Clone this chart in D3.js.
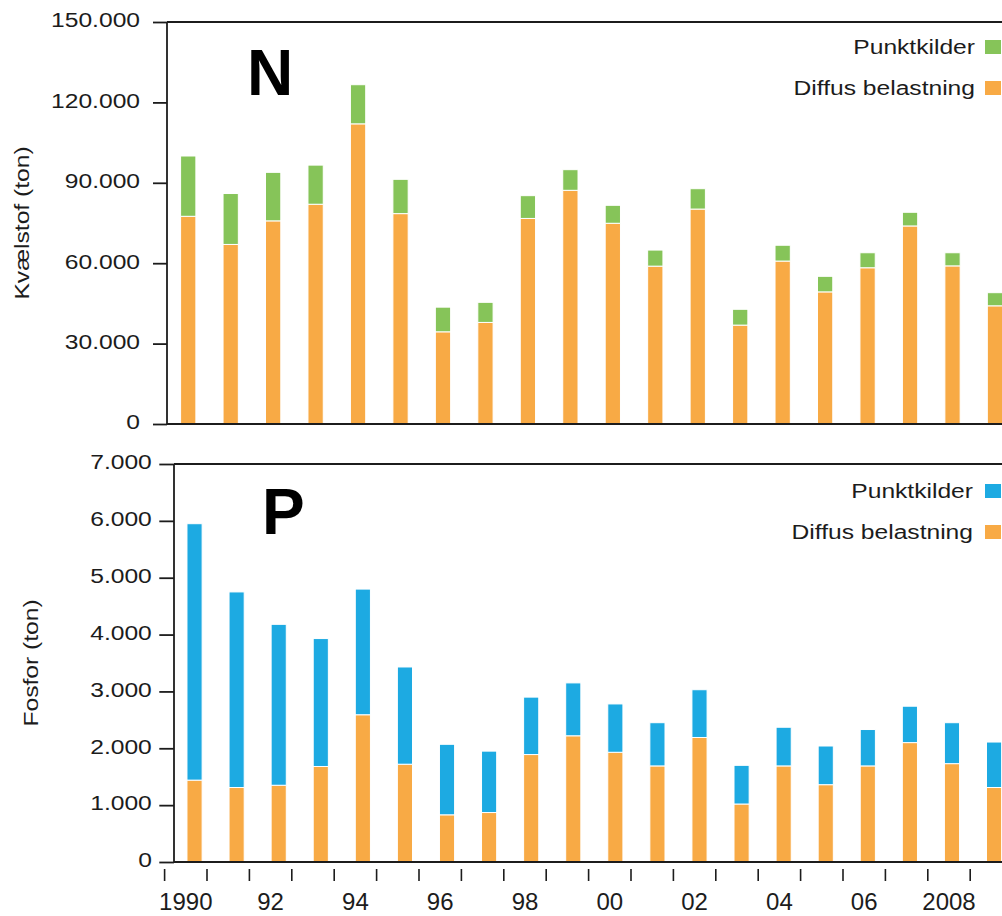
<!DOCTYPE html>
<html>
<head>
<meta charset="utf-8">
<script src="https://cdn.jsdelivr.net/npm/d3@7"></script>
<style>
  html, body { margin: 0; padding: 0; background: #fff; overflow: hidden; }
  svg { display: block; font-family: "Liberation Sans", Arial, Helvetica, sans-serif; }
</style>
</head>
<body>
<script>
// ---------- data ----------
const years = [1990,1991,1992,1993,1994,1995,1996,1997,1998,1999,2000,2001,2002,2003,2004,2005,2006,2007,2008,2009];

// Kvælstof (ton)
const nDiffus = [77500,67000,75800,82000,112000,78500,34400,37900,76700,87200,74900,58900,80200,36900,60800,49300,58300,73900,59000,44100];
const nPunkt  = [22500,19000,18100,14600,14600,12800,9200,7500,8500,7700,6700,6000,7600,5900,5900,5800,5600,5100,4900,4900];

// Fosfor (ton)
const pDiffus = [1440,1310,1350,1680,2590,1720,830,870,1890,2220,1930,1690,2190,1020,1690,1360,1690,2100,1730,1310];
const pPunkt  = [4510,3440,2830,2250,2210,1710,1240,1080,1010,930,850,760,840,680,680,680,640,640,720,800];

const nTicks = [0,30000,60000,90000,120000,150000];
const nTickLabels = ["0","30.000","60.000","90.000","120.000","150.000"];
const pTicks = [0,1000,2000,3000,4000,5000,6000,7000];
const pTickLabels = ["0","1.000","2.000","3.000","4.000","5.000","6.000","7.000"];

const labelYears = [1990,1992,1994,1996,1998,2000,2002,2004,2006,2008];
const xLabels = ["1990","92","94","96","98","00","02","04","06","2008"];

const seriesNames = ["Punktkilder","Diffus belastning"];

// ---------- styles ----------
const C_ORANGE = "#F8AA45", C_GREEN = "#86C459", C_BLUE = "#1DAAE2";
const INK = "#1c1c1c";
const STRETCH = 1.23;

const svg = d3.select("body").append("svg").attr("width", 1002).attr("height", 916);

function stretch(sel, k) {
  sel.each(function () {
    const w = this.getComputedTextLength();
    this.setAttribute("textLength", w * k);
    this.setAttribute("lengthAdjust", "spacingAndGlyphs");
  });
}

function panel(cfg) {
  const g = svg.append("g");
  const y = d3.scaleLinear().domain([0, cfg.max]).range([cfg.y0, cfg.y1]);
  const x = d3.scaleBand().domain(years).range(cfg.xRange).paddingInner(0.64).paddingOuter(0.32);

  const table = years.map((yr, i) => ({ year: yr, diffus: cfg.diffus[i], punkt: cfg.punkt[i] }));
  const stack = d3.stack().keys(["diffus", "punkt"])(table);
  const colors = { diffus: C_ORANGE, punkt: cfg.pointColor };

  g.append("g").selectAll("g").data(stack).join("g")
    .attr("fill", d => colors[d.key])
    .selectAll("rect").data(d => d).join("rect")
    .attr("x", d => x(d.data.year))
    .attr("width", x.bandwidth())
    .attr("y", d => y(d[1]))
    .attr("height", d => y(d[0]) - y(d[1]))
    .attr("stroke", "#fff").attr("stroke-width", 1);

  // frame lines
  const axX = cfg.axisX;
  g.append("line").attr("x1", axX).attr("x2", axX).attr("y1", cfg.y1).attr("y2", cfg.y0)
    .attr("stroke", INK).attr("stroke-width", 1.8);
  [cfg.y0, cfg.y1].forEach(yy => {
    g.append("line").attr("x1", axX).attr("x2", 1010).attr("y1", yy).attr("y2", yy)
      .attr("stroke", INK).attr("stroke-width", 1.8);
  });

  // y axis
  const ax = g.append("g").attr("transform", `translate(${axX},0)`)
    .call(d3.axisLeft(y).tickValues(cfg.ticks).tickFormat((d, i) => cfg.tickLabels[i])
      .tickSize(cfg.tickSize).tickPadding(cfg.tickPad));
  ax.select(".domain").remove();
  ax.selectAll(".tick line").attr("stroke", INK).attr("stroke-width", 1.8);
  ax.selectAll(".tick text").attr("fill", INK).attr("font-size", 20)
    .attr("font-family", "Liberation Sans, Arial, sans-serif").attr("dy", "0.24em")
    .call(stretch, STRETCH);

  // axis title
  const t = g.append("text")
    .attr("transform", `translate(${cfg.titleX},${(cfg.y0 + cfg.y1) / 2}) rotate(-90)`)
    .attr("text-anchor", "middle").attr("font-size", 20).attr("fill", INK)
    .text(cfg.title);
  t.call(stretch, STRETCH);

  // big letter
  g.append("text").attr("x", cfg.letterX).attr("y", cfg.letterY)
    .attr("font-size", 64).attr("font-weight", "bold").attr("fill", "#000")
    .text(cfg.letter);

  // legend
  const leg = g.append("g");
  const legColors = [cfg.pointColor, C_ORANGE];
  seriesNames.forEach((name, i) => {
    const by = cfg.legY[i];
    leg.append("text").attr("x", cfg.legTextX).attr("y", by).attr("text-anchor", "end")
      .attr("font-size", 20).attr("fill", INK).text(name).call(stretch, STRETCH);
    leg.append("rect").attr("x", 985).attr("y", by - 14).attr("width", 16).attr("height", 14)
      .attr("fill", legColors[i]);
  });
  return { x, y };
}

// Top panel: N
panel({
  max: 150000, y0: 424, y1: 22, xRange: [167, 1016.2], axisX: 167,
  diffus: nDiffus, punkt: nPunkt, pointColor: C_GREEN,
  ticks: nTicks, tickLabels: nTickLabels, tickSize: 14, tickPad: 13,
  title: "Kvælstof (ton)", titleX: 29,
  letter: "N", letterX: 247, letterY: 95,
  legY: [54, 95], legTextX: 975
});

// Bottom panel: P
panel({
  max: 7000, y0: 862, y1: 464, xRange: [173.5, 1015.1], axisX: 174,
  diffus: pDiffus, punkt: pPunkt, pointColor: C_BLUE,
  ticks: pTicks, tickLabels: pTickLabels, tickSize: 14.7, tickPad: 7.5,
  title: "Fosfor (ton)", titleX: 37.5,
  letter: "P", letterX: 262, letterY: 534,
  legY: [498, 539], legTextX: 973
});

// Year axis below bottom panel
const xT = d3.scaleBand().domain(years).range([164.6, 1012.6]).padding(0);
const xa = svg.append("g");
xa.selectAll("line").data(years).join("line")
  .attr("x1", d => xT(d)).attr("x2", d => xT(d))
  .attr("y1", 869).attr("y2", 881)
  .attr("stroke", INK).attr("stroke-width", 1.6);
xa.selectAll("text").data(labelYears).join("text")
  .attr("x", d => xT(d) + xT.bandwidth() / 2)
  .attr("y", 910)
  .attr("text-anchor", "middle").attr("font-size", 24).attr("fill", INK)
  .text((d, i) => xLabels[i]);
</script>
</body>
</html>
